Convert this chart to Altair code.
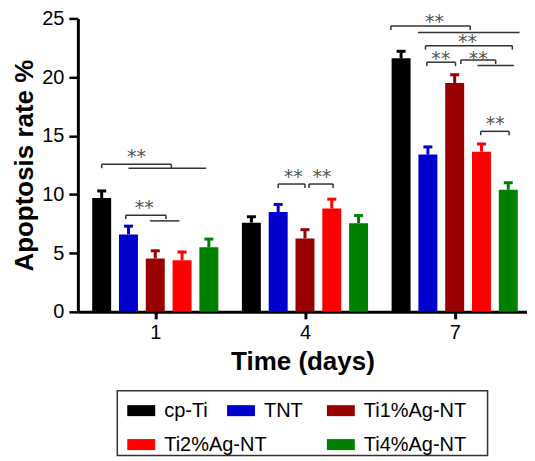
import altair as alt
import pandas as pd

DAYS = ["1", "4", "7"]
SERIES = ["cp-Ti", "TNT", "Ti1%Ag-NT", "Ti2%Ag-NT", "Ti4%Ag-NT"]
COLORS = ["#000000", "#0000CC", "#990000", "#FF0000", "#008000"]

# mean apoptosis rate (%) per series, for days 1, 4, 7
CPTI = [9.7, 7.6, 21.6]
TNT = [6.6, 8.5, 13.4]
TI1 = [4.55, 6.25, 19.5]
TI2 = [4.4, 8.8, 13.65]
TI4 = [5.5, 7.55, 10.4]
# upper error (SD)
CPTI_ERR = [0.6, 0.5, 0.6]
TNT_ERR = [0.7, 0.65, 0.65]
TI1_ERR = [0.65, 0.75, 0.7]
TI2_ERR = [0.7, 0.8, 0.65]
TI4_ERR = [0.7, 0.65, 0.6]

MEANS = [CPTI, TNT, TI1, TI2, TI4]
ERRS = [CPTI_ERR, TNT_ERR, TI1_ERR, TI2_ERR, TI4_ERR]

# significance brackets: (day index, from series slot, to series slot, height, hooked ends)
BR_DAY = [0, 0, 0, 0, 1, 1, 2, 2, 2, 2, 2, 2, 2]
BR_FROM = [0.0, 1.0, 0.9, 1.8, 1.0, 2.15, -0.38, 0.63, 0.91, 0.96, 2.23, 2.85, 2.97]
BR_TO = [2.6, 3.9, 2.4, 2.9, 2.0, 3.05, 2.58, 4.42, 4.15, 2.03, 3.53, 4.21, 4.03]
BR_Y = [12.57, 12.23, 8.23, 7.75, 10.89, 10.89, 24.35, 23.8, 22.67, 21.27, 21.45, 20.98, 15.38]
BR_HOOK = [True, False, True, False, True, True, True, False, True, True, True, False, True]

# "**" labels: (day index, series slot, height)
ST_DAY = [0, 0, 1, 1, 2, 2, 2, 2, 2]
ST_SLOT = [1.3, 1.59, 1.56, 2.63, 1.25, 2.48, 1.48, 2.88, 3.51]
ST_Y = [13.64, 9.26, 11.95, 11.95, 25.1, 23.45, 21.95, 21.95, 16.43]

LEGEND_COL = [0, 1, 2, 0, 2]
LEGEND_ROW = [0, 0, 0, 1, 1]

SLOT = 0.179   # distance between neighbouring bars, in day units
HOOK = 0.33    # bracket end hook depth, in %

def pos(day, slot):
    return day + (slot - 2) * SLOT

rows = []
for si, s in enumerate(SERIES):
    for di, d in enumerate(DAYS):
        m = MEANS[si][di]
        e = ERRS[si][di]
        rows.append({"series": s, "day": d, "x": pos(di, si), "mean": m, "hi": m + e})
bars_df = pd.DataFrame(rows)

br_df = pd.DataFrame({
    "x1": [pos(d, a) for d, a in zip(BR_DAY, BR_FROM)],
    "x2": [pos(d, b) for d, b in zip(BR_DAY, BR_TO)],
    "y": BR_Y,
})
hook_rows = []
for d, a, b, y, h in zip(BR_DAY, BR_FROM, BR_TO, BR_Y, BR_HOOK):
    if h:
        hook_rows.append({"x": pos(d, a), "y": y, "y2": y - HOOK})
        hook_rows.append({"x": pos(d, b), "y": y, "y2": y - HOOK})
hook_df = pd.DataFrame(hook_rows)
st_df = pd.DataFrame({
    "x": [pos(d, s) for d, s in zip(ST_DAY, ST_SLOT)],
    "y": ST_Y,
    "label": ["**"] * len(ST_Y),
})

FONT = "Liberation Sans"
label_expr = "[" + ",".join("'" + d + "'" for d in DAYS) + "][datum.value]"

xscale = alt.Scale(domain=[-0.517, 2.483], nice=False, zero=False, padding=0)
yscale = alt.Scale(domain=[0, 25], nice=False)
xaxis = alt.Axis(values=[0, 1, 2], labelExpr=label_expr, grid=False, tickSize=7, tickWidth=3,
                 domainWidth=3, domainColor="black", tickColor="black", labelFontSize=20,
                 labelColor="black", labelFont=FONT, labelPadding=4, title="Time (days)",
                 titleFont=FONT, titleFontSize=26, titleFontWeight="bold", titleColor="black",
                 titlePadding=6, labelFlush=False)
yaxis = alt.Axis(values=[0, 5, 10, 15, 20, 25], grid=False, tickSize=9, tickWidth=2.5,
                 domainWidth=3, domainColor="black", tickColor="black", labelFontSize=20,
                 labelColor="black", labelFont=FONT, labelPadding=5, title="Apoptosis rate %",
                 titleFont=FONT, titleFontSize=26, titleFontWeight="bold", titleColor="black",
                 titlePadding=4)
X = alt.X("x:Q", scale=xscale, axis=xaxis)
color = alt.Color("series:N", scale=alt.Scale(domain=SERIES, range=COLORS), legend=None)

base = alt.Chart(bars_df)
bars = base.mark_bar(width=19, orient="vertical").encode(
    x=X, y=alt.Y("mean:Q", scale=yscale, axis=yaxis), color=color)
err = base.mark_rule(strokeWidth=3).encode(
    x=X, y=alt.Y("mean:Q", scale=yscale, axis=yaxis), y2="hi:Q", color=color)
cap = base.mark_point(shape="M-1,0L1,0", size=81, filled=False, strokeWidth=3, opacity=1).encode(
    x=X, y=alt.Y("hi:Q", scale=yscale, axis=yaxis), color=color)

brk = alt.Chart(br_df).mark_rule(color="#333333", strokeWidth=1.5).encode(
    x=alt.X("x1:Q", scale=xscale, axis=xaxis), x2="x2:Q",
    y=alt.Y("y:Q", scale=yscale, axis=yaxis))
hooks = alt.Chart(hook_df).mark_rule(color="#333333", strokeWidth=1.5).encode(
    x=X, y=alt.Y("y:Q", scale=yscale, axis=yaxis), y2="y2:Q")
stars = alt.Chart(st_df).mark_text(font="DejaVu Sans", fontSize=19, color="#555555",
                                   baseline="alphabetic", dy=11).encode(
    x=X, y=alt.Y("y:Q", scale=yscale, axis=yaxis), text="label:N")

main = alt.layer(bars, err, cap, brk, hooks, stars).properties(width=450, height=294)

leg_df = pd.DataFrame({"series": SERIES, "col": LEGEND_COL, "row": LEGEND_ROW})
lx = alt.X("col:Q", scale=alt.Scale(domain=[0, 2], range=[24, 224]), axis=None)
ly = alt.Y("row:Q", scale=alt.Scale(domain=[0, 1], range=[20, 54]), axis=None)
sw = alt.Chart(leg_df).mark_point(shape="M-1,-0.393L1,-0.393L1,0.393L-1,0.393Z", size=784,
                                  filled=True, opacity=1).encode(x=lx, y=ly, color=color)
lt = alt.Chart(leg_df).mark_text(align="left", baseline="middle", dx=23, fontSize=20,
                                 font=FONT, color="black").encode(x=lx, y=ly, text="series:N")
legend = alt.layer(sw, lt).properties(width=371, height=65,
                                      view=alt.ViewBackground(stroke="#333333", strokeWidth=1.5))

chart = alt.vconcat(main, legend, spacing=79, center=True, bounds="flush").properties(
    padding={"left": 3, "top": 0, "right": 0, "bottom": 0}
).configure_view(strokeWidth=0)

chart.save("out.html", embed_options={"renderer": "svg", "actions": False})
